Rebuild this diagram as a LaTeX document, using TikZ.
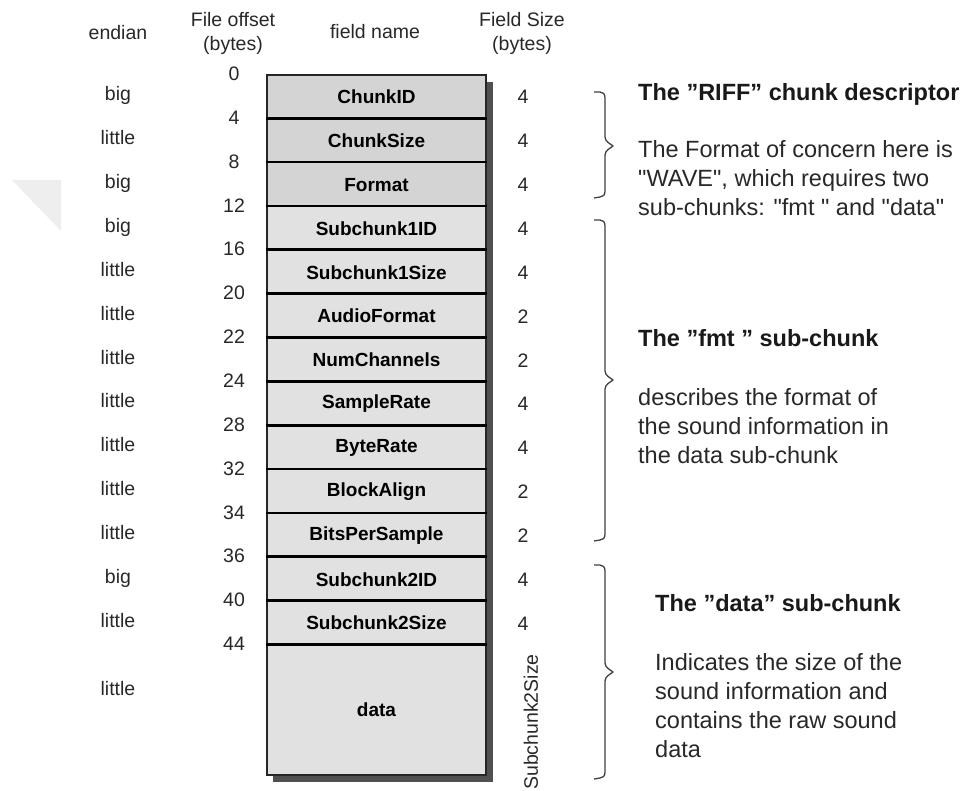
\documentclass[tikz,border=0pt]{standalone}
\usepackage{fontspec}
\setmainfont{Liberation Sans}[Ligatures=TeXOff]
\definecolor{riffgray}{RGB}{212,212,212}
\definecolor{subgray}{RGB}{225,225,225}
\definecolor{shadowgray}{RGB}{80,80,80}
\definecolor{txtgray}{RGB}{40,40,40}
\definecolor{wmgray}{RGB}{238,238,238}
\newcommand\wavbrace[3]{%
  \draw[bracestyle] (594,#1) -- (600,#1) .. controls (603,#1) and (605,#1+2) .. (605,#1+6)
    -- (605,#2-9) .. controls (605,#2-4) and (611,#2-2) .. (613,#2)
    .. controls (611,#2+2) and (605,#2+4) .. (605,#2+9)
    -- (605,#3-6) .. controls (605,#3-2) and (603,#3) .. (600,#3) -- (594,#3+1);}
\begin{document}
\begin{tikzpicture}[x=1pt,y=-1pt,
  colhead/.style={font=\fontsize{19.5}{24}\selectfont, text=txtgray, inner sep=0, align=center},
  collbl/.style={font=\fontsize{19.5}{23}\selectfont, text=txtgray, inner sep=0, anchor=base},
  fieldbox/.style={draw=black!85, line width=1.2pt, minimum width=219pt, inner sep=0,
    font=\bfseries\fontsize{19}{22}\selectfont, text=black},
  sepline/.style={line width=2.8pt, black},
  bracestyle/.style={line width=1.3pt, black!75, line join=round},
  headline/.style={font=\bfseries\fontsize{23.5}{29}\selectfont, text=black!90, inner sep=0, anchor=base west},
  bodytext/.style={font=\fontsize{23.5}{29}\selectfont, text=txtgray, inner sep=0, anchor=base west, align=left},
]
\useasboundingbox (0,0) rectangle (965,791);
% faint watermark triangle
\fill[wmgray] (12,180) -- (61,180) -- (61,231) -- cycle;
% column headers
\node[colhead, anchor=base] (hendian) at (118,40) {endian};
\node[colhead] (hoffset) at (233,33) {File offset\\(bytes)};
\node[colhead, anchor=base] (hname) at (375,39) {field name};
\node[colhead] (hsize) at (522,33) {Field Size\\(bytes)};
% shadow of the table
\fill[shadowgray] (273,82) rectangle (493,782);
% rows
\foreach \i/\fname/\en/\off/\sz/\col in {
  0/ChunkID/big/0/4/riffgray,
  1/ChunkSize/little/4/4/riffgray,
  2/Format/big/8/4/riffgray,
  3/Subchunk1ID/big/12/4/subgray,
  4/Subchunk1Size/little/16/4/subgray,
  5/AudioFormat/little/20/2/subgray,
  6/NumChannels/little/22/2/subgray,
  7/SampleRate/little/24/4/subgray,
  8/ByteRate/little/28/4/subgray,
  9/BlockAlign/little/32/2/subgray,
  10/BitsPerSample/little/34/2/subgray,
  11/Subchunk2ID/big/36/4/subgray,
  12/Subchunk2Size/little/40/4/subgray}{
  \pgfmathsetmacro\rtop{75+43.85*\i}
  \pgfmathsetmacro\rmid{\rtop+21.925}
  \node[fieldbox, fill=\col, minimum height=43.85pt] (r\i) at (376.5,\rmid) {\fname};
  \node[collbl] (e\i) at (118,\rmid+4) {\en};
  \node[collbl] (o\i) at (234,\rtop+5.5) {\off};
  \node[collbl] (s\i) at (523,\rmid+7) {\sz};
}
\node[fieldbox, fill=subgray, minimum height=129.95pt] (r13) at (376.5,710.025) {data};
\node[collbl] (e13) at (118,695) {little};
\node[collbl] (o13) at (234,650.5) {44};
\node[collbl, anchor=center, rotate=90] (s13) at (531,722) {Subchunk2Size};
% thick separators
\foreach \i in {1,...,13}{
  \draw[sepline] (r\i.north west) -- (r\i.north east);
}
% braces
\wavbrace{92}{146}{197}
\wavbrace{220}{380}{540}
\wavbrace{565}{672}{778}
% descriptions (multi-line nodes: base = last line)
\node[headline] (riffhead) at (638,101) {The ”RIFF” chunk descriptor};
\node[bodytext] (riffbody) at (638,215.5) {The Format of concern here is\\"WAVE", which requires two\\sub-chunks: "fmt " and "data"};
\node[headline] (fmthead) at (638,346.5) {The ”fmt ” sub-chunk};
\node[bodytext] (fmtbody) at (638,463.5) {describes the format of\\the sound information in\\the data sub-chunk};
\node[headline] (datahead) at (655,611.5) {The ”data” sub-chunk};
\node[bodytext] (databody) at (655,757.5) {Indicates the size of the\\sound information and\\contains the raw sound\\data};
\end{tikzpicture}
\end{document}
